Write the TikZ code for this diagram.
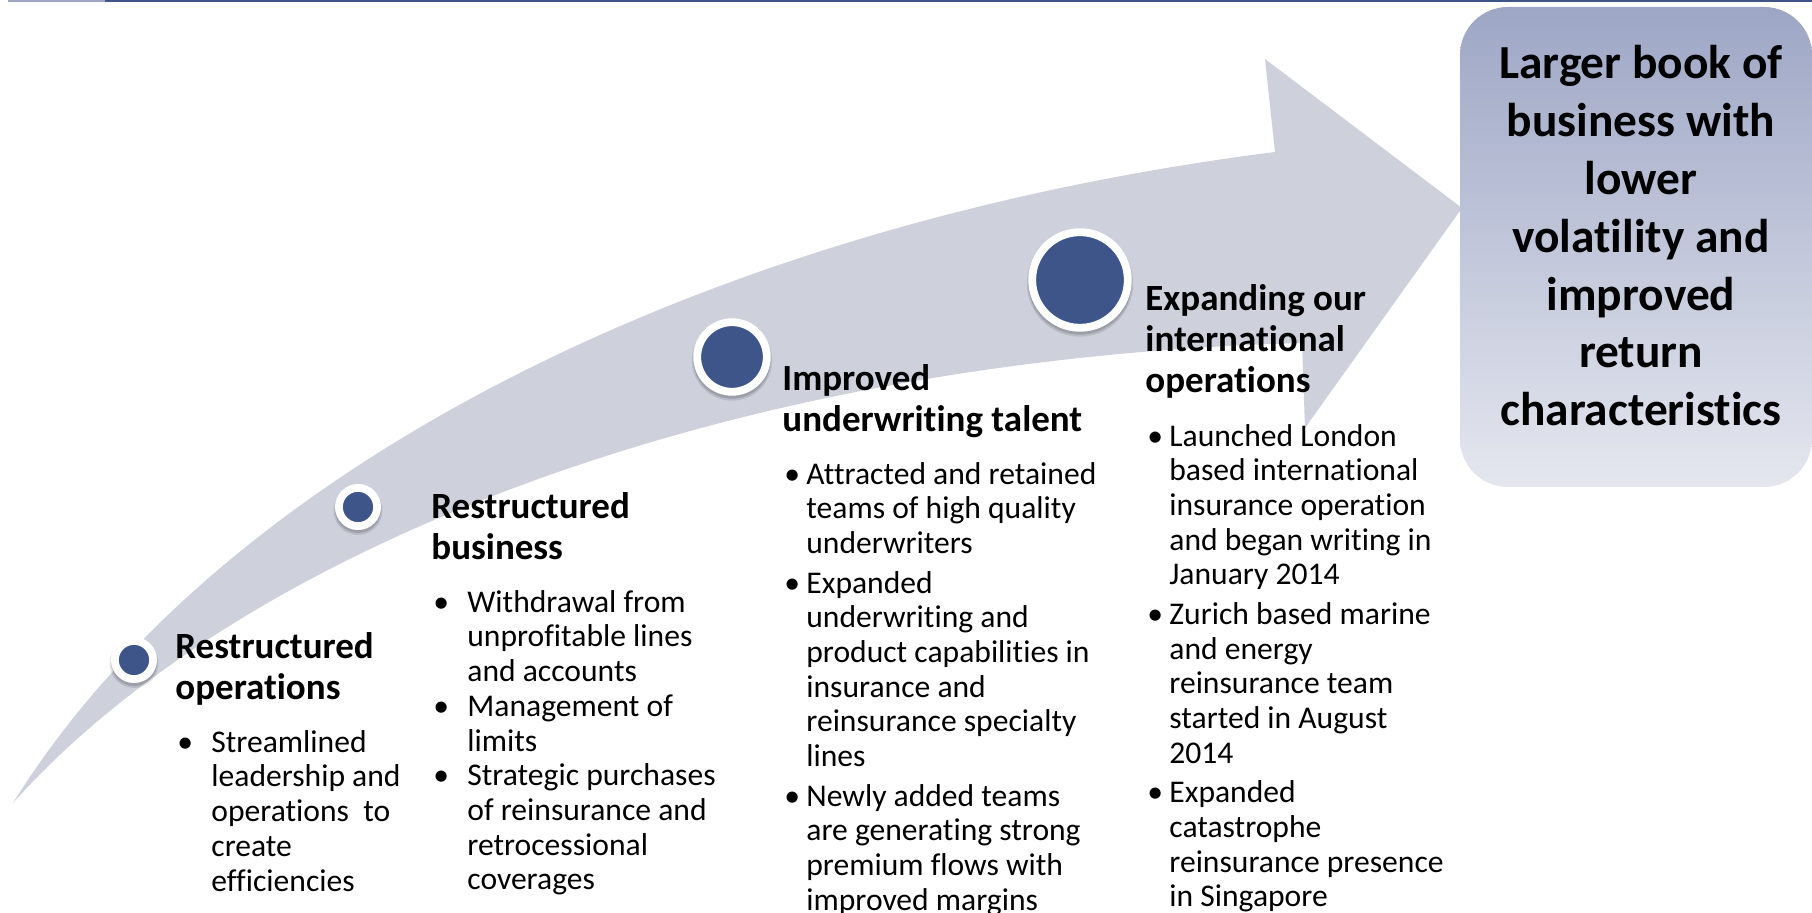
\documentclass[tikz,border=0pt]{standalone}
\usepackage{fontspec}
\setmainfont{Carlito}[Ligatures=NoCommon]
\usepackage{tikz}

\definecolor{bandgray}{RGB}{206,209,220}
\definecolor{navy}{RGB}{61,85,137}
\definecolor{barlight}{RGB}{157,167,197}
\definecolor{boxtop}{RGB}{157,166,197}
\definecolor{boxbot}{RGB}{229,231,239}

\newcommand{\headfont}{\fontsize{18.5}{20.3}\bfseries\selectfont}
\newcommand{\bodyfont}{\fontsize{15.8}{17.35}\selectfont}
\newcommand{\goalfont}{\fontsize{23.7}{28.9}\bfseries\selectfont}
\newcommand{\bitem}[2]{\par\noindent\hangindent=#1\hangafter=1\makebox[#1][l]{\hspace{1pt}\textbullet}#2}

\begin{document}
\begin{tikzpicture}[x=0.5pt, y=-0.5pt,
  marker/.style={circle, draw=white, fill=navy, line width=3.9pt, inner sep=0pt, outer sep=0pt},
  col/.style={anchor=base west, inner sep=0pt, text width=175pt, align=flush left},
  goaltext/.style={anchor=base, inner sep=0pt, text width=175pt, align=flush center, font=\goalfont}]
\useasboundingbox (0,0) rectangle (1812,913);
% top rule
\fill[barlight] (8,0) rectangle (105,2.5);
\fill[navy] (105,0) rectangle (1812,2.5);
% arrow
\fill[bandgray] (13,803) .. controls (220,470) and (700,225) .. (1275,152) -- (1265,59) -- (1462,208) -- (1305,428) -- (1302,343) .. controls (700,360) and (230,560) .. (13,803) -- cycle;
% markers
\foreach \x/\y/\r in {134/660/23, 358/507/23, 732/357/38.7, 1080/280/51.7}{
  \fill[black, opacity=.10] (\x,\y+3.5) circle (\r+1.5);
  \fill[black, opacity=.15] (\x,\y+3) circle (\r);
}
\node[marker, minimum size=19.1pt] (m1) at (134,660) {};
\node[marker, minimum size=19.1pt] (m2) at (358,507) {};
\node[marker, minimum size=34.8pt] (m3) at (732,357) {};
\node[marker, minimum size=47.8pt] (m4) at (1080,280) {};
% goal
\shade[top color=boxtop, bottom color=boxbot, rounded corners=24pt] (1460,7) rectangle (1812,487);
%Text
\node[col] (c1) at (175,659) {{\headfont Restructured\\operations\par}\bodyfont\vspace{9pt}
  \bitem{18pt}{Streamlined\newline leadership and\newline operations\ \ to\newline create\newline efficiencies}\par};
\node[col] (c2) at (431,519) {{\headfont Restructured\\business\par}\bodyfont\vspace{9pt}
  \bitem{18pt}{Withdrawal from\newline unprofitable lines\newline and accounts}
  \bitem{18pt}{Management of\newline limits}
  \bitem{18pt}{Strategic purchases\newline of reinsurance and\newline retrocessional\newline coverages}\par};
\node[col] (c3) at (782,391) {{\headfont Improved\\underwriting talent\par}\bodyfont\vspace{9pt}
  \bitem{12pt}{Attracted and retained\newline teams of high quality\newline underwriters}\par\vspace{2.4pt}
  \bitem{12pt}{Expanded\newline underwriting and\newline product capabilities in\newline insurance and\newline reinsurance specialty\newline lines}\par\vspace{2.4pt}
  \bitem{12pt}{Newly added teams\newline are generating strong\newline premium flows with\newline improved margins}\par};
\node[col] (c4) at (1145,311) {{\headfont Expanding our\\international\\operations\par}\bodyfont\vspace{9.6pt}
  \bitem{12pt}{Launched London\newline based international\newline insurance operation\newline and began writing in\newline January 2014}\par\vspace{2.4pt}
  \bitem{12pt}{Zurich based marine\newline and energy\newline reinsurance team\newline started in August\newline 2014}\par\vspace{2.4pt}
  \bitem{12pt}{Expanded\newline catastrophe\newline reinsurance presence\newline in Singapore}\par};
\node[goaltext] (goal) at (1641,79) {Larger book of\\business with\\lower\\volatility and\\improved\\return\\characteristics};
\end{tikzpicture}
\end{document}
